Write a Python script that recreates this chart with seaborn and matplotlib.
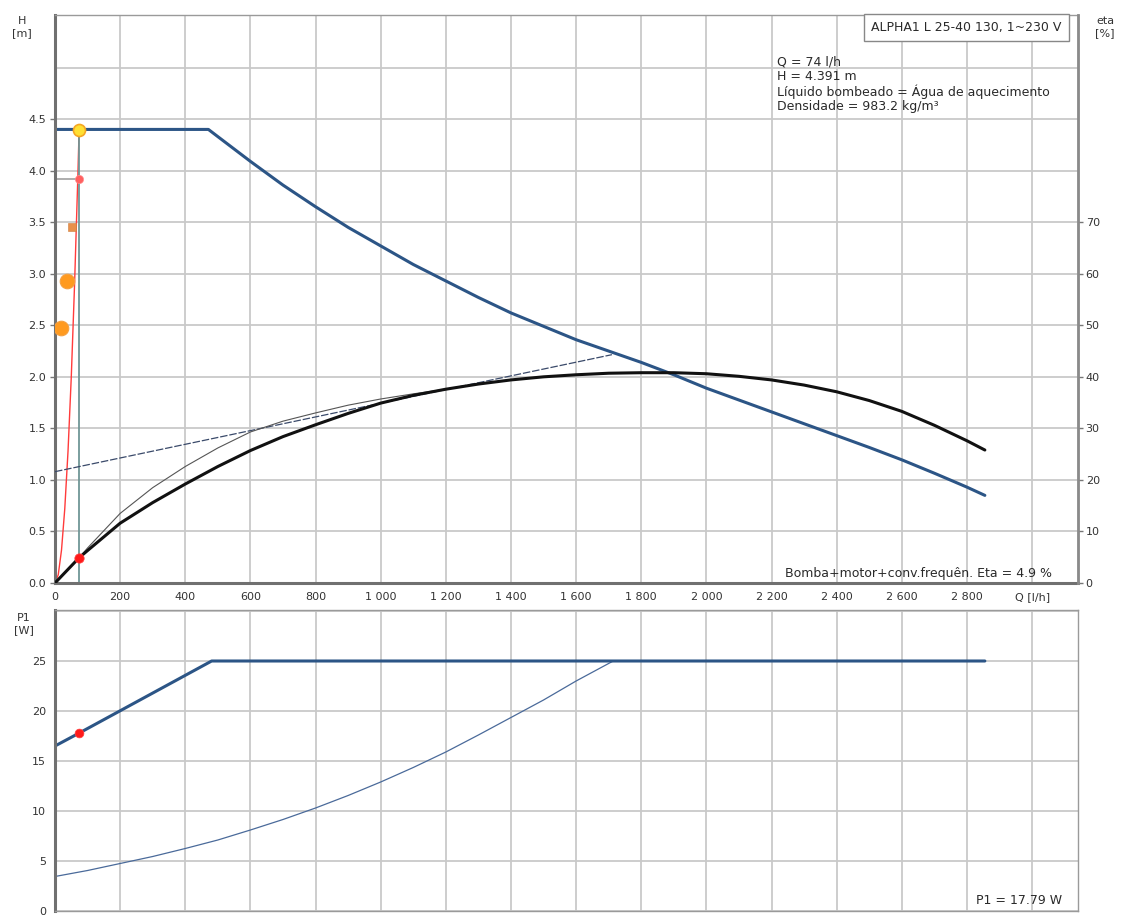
import matplotlib
matplotlib.use("Agg")
import matplotlib.pyplot as plt
import matplotlib.ticker as mticker
import seaborn as sns

# pump curve H(Q)
q_pump = [0, 100, 200, 300, 400, 471, 500, 600, 700, 800, 900, 1000, 1100, 1200, 1300, 1400,
          1500, 1600, 1700, 1800, 1900, 2000, 2100, 2200, 2300, 2400, 2500, 2600, 2700, 2800, 2855]
h_pump = [4.40, 4.40, 4.40, 4.40, 4.40, 4.40, 4.33, 4.09, 3.86, 3.65, 3.45, 3.27, 3.09, 2.93, 2.77, 2.62,
          2.49, 2.36, 2.25, 2.14, 2.02, 1.89, 1.775, 1.66, 1.545, 1.43, 1.315, 1.195, 1.065, 0.93, 0.85]

# efficiency curves [%]
q_eta = [0, 74, 100, 200, 300, 400, 500, 600, 700, 800, 900, 1000, 1100, 1200, 1300, 1400, 1500,
         1600, 1700, 1800, 1900, 2000, 2100, 2200, 2300, 2400, 2500, 2600, 2700, 2800, 2855]
eta = [0, 4.9, 6.3, 11.6, 15.6, 19.2, 22.6, 25.7, 28.4, 30.7, 32.9, 34.9, 36.4, 37.6, 38.6, 39.4, 40.0,
       40.4, 40.7, 40.8, 40.8, 40.6, 40.1, 39.4, 38.4, 37.1, 35.4, 33.3, 30.6, 27.6, 25.8]
q_eta_thin = [74, 100, 200, 300, 400, 500, 600, 700, 800, 900, 1000, 1100, 1200]
eta_thin = [4.9, 6.8, 13.5, 18.5, 22.6, 26.2, 29.3, 31.4, 33.0, 34.5, 35.7, 36.7, 37.6]
q_eta_line = [0, 1710]
eta_line = [21.6, 44.3]

# system curve
q_sys = [0, 10, 20, 30, 40, 50, 60, 70, 74]
h_sys = [0, 0.08, 0.32, 0.72, 1.28, 2.00, 2.89, 3.93, 4.391]

# power curves P1 [W]
q_p1 = [0, 74, 481, 2855]
p1 = [16.5, 17.79, 25.0, 25.0]
q_p1_thin = [0, 100, 200, 300, 400, 500, 600, 700, 800, 900, 1000, 1100, 1200, 1300, 1400, 1500, 1600, 1714]
p1_thin = [3.45, 4.05, 4.75, 5.45, 6.25, 7.1, 8.1, 9.15, 10.3, 11.55, 12.9, 14.35, 15.9, 17.6, 19.35,
           21.1, 23.0, 25.0]

# duty point and helper markers
q_duty, h_duty, eta_duty, p1_duty = 74, 4.391, 4.9, 17.79
q_mark_small, h_mark_small = 74, 3.92
q_square, h_square = 53, 3.45
q_dots = [36, 18]
h_dots = [2.93, 2.47]

x_ticks = list(range(0, 3001, 200))
h_ticks = [0.0, 0.5, 1.0, 1.5, 2.0, 2.5, 3.0, 3.5, 4.0, 4.5, 5.0]
eta_ticks = [0, 10, 20, 30, 40, 50, 60, 70]
p1_ticks = [0, 5, 10, 15, 20, 25, 30]

info_text = ("Q = 74 l/h\nH = 4.391 m\nLíquido bombeado = Água de aquecimento\n"
             "Densidade = 983.2 kg/m³")
title_text = "ALPHA1 L 25-40 130, 1~230 V"

sns.set_theme(style="whitegrid")
plt.rcParams['font.family'] = ['DejaVu Sans']

W, H = 1123, 915
blue = '#2c5586'
grid_c = '#c9c9c9'
spine_c = '#707070'
txt_c = '#2a2a2a'
fs_tick = 8
fs_note = 9

fig = plt.figure(figsize=(W / 100, H / 100), dpi=100)
fig.patch.set_facecolor('white')
ax = fig.add_axes([55 / W, 1 - 583 / H, 1023 / W, 568 / H])
ax2 = ax.twinx()
axp = fig.add_axes([55 / W, 1 - 911 / H, 1023 / W, 301 / H])

xmax = 3141


def style_axes(a):
    a.set_facecolor('white')
    a.grid(True, color=grid_c, linewidth=1.3)
    a.set_axisbelow(True)
    for side in ['top', 'bottom', 'left', 'right']:
        a.spines[side].set_visible(True)
        a.spines[side].set_color('#9a9a9a')
        a.spines[side].set_linewidth(1.0)
    a.spines['left'].set_color(spine_c)
    a.spines['left'].set_linewidth(2.2)
    a.tick_params(axis='both', length=3.5, width=1, color='#777777',
                  labelsize=fs_tick, labelcolor='#333333')
    a.set_xlim(0, xmax)
    a.set_xticks(x_ticks)
    a.set_xlabel('')
    a.set_ylabel('')


# ---- top chart: H and eta ----
style_axes(ax)
ax.spines['bottom'].set_color(spine_c)
ax.spines['bottom'].set_linewidth(2.2)
ax.set_ylim(0, 5.51)
ax.set_yticks(h_ticks)
ax.set_yticklabels([f"{v:.1f}" for v in h_ticks[:-1]] + [''])
ax.yaxis.get_major_ticks()[-1].tick1line.set_visible(False)
ax.xaxis.set_major_formatter(mticker.FuncFormatter(
    lambda v, p: "Q [l/h]" if v == 3000 else f"{int(v):,}".replace(",", " ")))
ax.tick_params(axis='x', pad=3)
ax.tick_params(axis='y', pad=3)

sns.lineplot(x=q_sys, y=h_sys, ax=ax, color='#ff3b3b', linewidth=1.0)
ax.plot([q_duty, q_duty], [0, h_duty], color='#6f9696', linewidth=1.3)
ax.plot([0, q_mark_small], [h_mark_small, h_mark_small], color='#a0a0a0', linewidth=1.2)
sns.lineplot(x=q_pump, y=h_pump, ax=ax, color=blue, linewidth=2.2)

sns.scatterplot(x=q_dots, y=h_dots, ax=ax, color='#ff9a1f', s=110,
                edgecolor='#f5a040', linewidth=0.8, zorder=5)
sns.scatterplot(x=[q_square], y=[h_square], ax=ax, color='#e8904a', marker='s',
                s=28, edgecolor='#d08040', zorder=5)
sns.scatterplot(x=[q_mark_small], y=[h_mark_small], ax=ax, color='#ff6060',
                s=35, edgecolor='#ff9090', zorder=6)
sns.scatterplot(x=[q_duty], y=[h_duty], ax=ax, color='#ffe033', s=75,
                edgecolor='#f5a623', linewidth=1.2, zorder=7)

ax2.set_ylim(0, 110.2)
ax2.set_yticks(eta_ticks)
ax2.grid(False)
for side in ['top', 'bottom', 'left']:
    ax2.spines[side].set_visible(False)
ax2.spines['right'].set_visible(True)
ax2.spines['right'].set_color('#8a8a8a')
ax2.spines['right'].set_linewidth(2.0)
ax2.tick_params(axis='y', length=3.5, width=1, color='#777777', labelsize=fs_tick,
                labelcolor='#333333', pad=2)
sns.lineplot(x=q_eta_line, y=eta_line, ax=ax2, color='#3a4a6a', linewidth=0.9,
             linestyle=(0, (6, 1.5)))
sns.lineplot(x=q_eta_thin, y=eta_thin, ax=ax2, color='#555555', linewidth=0.8)
sns.lineplot(x=q_eta, y=eta, ax=ax2, color='#111111', linewidth=2.2)
sns.scatterplot(x=[q_duty], y=[eta_duty], ax=ax2, color='#ff1a1a', s=45,
                edgecolor='#ff4040', zorder=7)
ax2.set_xlim(0, xmax)
ax2.set_ylabel('')

ax.text((777 - 55) / 1023, 0.928, info_text, transform=ax.transAxes, ha='left',
        va='top', fontsize=fs_note, linespacing=1.1, color=txt_c, zorder=10)
ax.text(0.984, 0.989, title_text, transform=ax.transAxes, ha='right', va='top',
        fontsize=fs_note, color=txt_c, zorder=10,
        bbox=dict(boxstyle='square,pad=0.55', facecolor='white', edgecolor='#888888', linewidth=1))
ax.text((1052 - 55) / 1023, 0.011, "Bomba+motor+conv.frequên. Eta = 4.9 %",
        transform=ax.transAxes, ha='right', va='baseline', fontsize=fs_note, color=txt_c)

# ---- bottom chart: P1 ----
style_axes(axp)
axp.set_ylim(0, 30.1)
axp.set_yticks(p1_ticks)
axp.set_yticklabels([str(v) for v in p1_ticks[:-1]] + [''])
axp.yaxis.get_major_ticks()[-1].tick1line.set_visible(False)
axp.tick_params(axis='x', labelbottom=False, length=0)
axp.tick_params(axis='y', pad=3)
sns.lineplot(x=q_p1_thin, y=p1_thin, ax=axp, color='#4a6a9a', linewidth=0.9)
sns.lineplot(x=q_p1, y=p1, ax=axp, color=blue, linewidth=2.2)
sns.scatterplot(x=[q_duty], y=[p1_duty], ax=axp, color='#ff1a1a', s=40,
                edgecolor='#ff4040', zorder=7)
axp.set_xlabel('')
axp.set_ylabel('')
axp.text((1062 - 55) / 1023, 0.022, "P1 = 17.79 W", transform=axp.transAxes,
         ha='right', va='baseline', fontsize=fs_note, color=txt_c)

# axis unit labels
fig.text(22 / W, 1 - 16 / H, "H\n[m]", ha='center', va='top', fontsize=fs_tick,
         linespacing=1.3, color='#333333')
fig.text(1105 / W, 1 - 16 / H, "eta\n[%]", ha='center', va='top', fontsize=fs_tick,
         linespacing=1.3, color='#333333')
fig.text(24 / W, 1 - 613 / H, "P1\n[W]", ha='center', va='top', fontsize=fs_tick,
         linespacing=1.3, color='#333333')

fig.savefig("out.png", dpi=100, facecolor='white')
